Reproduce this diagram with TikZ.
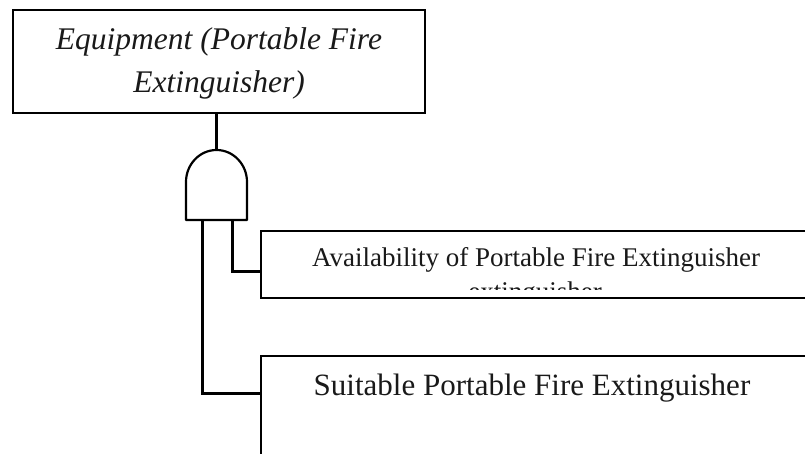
\documentclass[tikz,border=0pt]{standalone}
\usepackage{fontspec}
\setmainfont{Liberation Serif}
\begin{document}
\begin{tikzpicture}[x=1pt,y=-1pt,
  evbox/.style={draw=black,line width=2pt,fill=none},
  wire/.style={draw=black,line width=3pt},
  gateline/.style={draw=black,line width=2.2pt,line join=round},
  lbl/.style={inner sep=0pt,anchor=base,text=black!90}]
\useasboundingbox (0,0) rectangle (805,454);
\clip (0,0) rectangle (805,454);

% top event
\node[evbox,minimum width=412pt,minimum height=103pt,inner sep=0pt] (top) at (219,61.5) {};
\node[lbl] (toptxt1) at (219,50) {\fontsize{31.5}{40}\selectfont\itshape Equipment (Portable Fire};
\node[lbl] (toptxt2) at (219,93) {\fontsize{31.5}{40}\selectfont\itshape Extinguisher)};

% AND gate
\coordinate (gtop) at (216.5,150);
\coordinate (gleft) at (202,220);
\coordinate (gright) at (232,220);
\draw[gateline,fill=white] (186,220) -- (186,182)
  .. controls (186,164.3) and (199.7,150) .. (gtop)
  .. controls (233.3,150) and (247,164.3) .. (247,182)
  -- (247,220) -- cycle;

% basic events
\node[evbox,minimum width=560pt,minimum height=67pt,inner sep=0pt,anchor=north west] (avail) at (260,230) {};
\node[evbox,minimum width=560pt,minimum height=120pt,inner sep=0pt,anchor=north west] (suit) at (260,355) {};

\node[lbl] (availtxt) at (536,266) {\fontsize{27}{32}\selectfont Availability of Portable Fire Extinguisher};
\begin{scope}
  \clip (400,279) rectangle (700,289);
  \node[lbl] (availtxt2) at (535,300) {\fontsize{27}{32}\selectfont extinguisher};
\end{scope}
\node[lbl] (suittxt) at (532,395) {\fontsize{31}{36}\selectfont Suitable Portable Fire Extinguisher};

% connectors
\draw[wire] (gtop |- top.south) -- (gtop);
\draw[wire] (gright) |- (avail.west |- 0,271);
\draw[wire] (gleft) |- (suit.west |- 0,393);
\end{tikzpicture}
\end{document}
